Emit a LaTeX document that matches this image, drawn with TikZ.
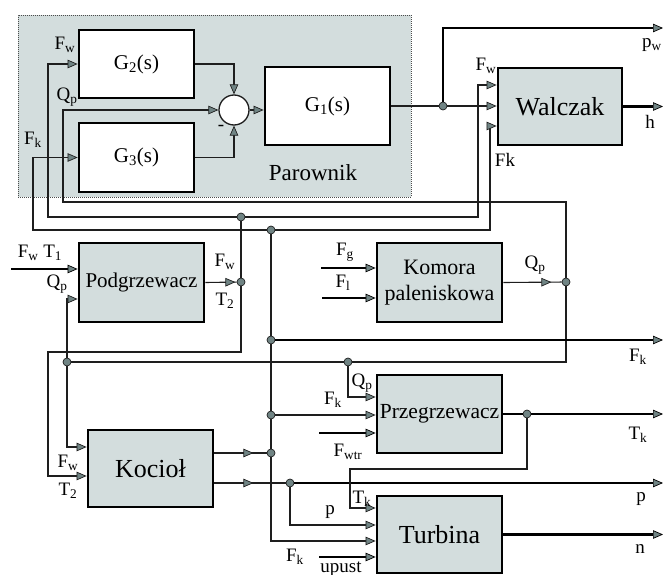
\documentclass[tikz,border=0pt]{standalone}
\usepackage{fontspec}
\setmainfont{Liberation Serif}
\usetikzlibrary{arrows.meta, decorations.markings}

\definecolor{boxgray}{HTML}{D3DDDD}
\definecolor{tipgray}{HTML}{708484}
\definecolor{linec}{HTML}{1E1E1E}
\newcommand{\sym}[2]{#1\textsubscript{#2}}

\begin{document}
\begin{tikzpicture}[x=1pt, y=-1pt, line cap=butt, line join=miter,
    wire/.style={line width=1.1pt, draw=linec},
    bus/.style={line width=2.8pt, draw=black},
    blk/.style={draw=black, line width=2.8pt, fill=boxgray, inner sep=0pt, align=center},
    gblk/.style={blk, fill=white, font=\fontsize{21}{22}\selectfont},
    pbg/.style={draw=black!70, dash pattern=on 0.8pt off 1.2pt, line width=0.7pt, fill=boxgray, inner sep=0pt},
    dot/.style={circle, draw=linec, fill=tipgray, line width=0.7pt, inner sep=0pt, minimum size=8pt},
    lbl/.style={font=\fontsize{19}{20}\selectfont, inner sep=0pt},
    midtip/.style={postaction={decorate}, decoration={markings, mark=at position #1 with {\arrow{>}}}},
    >={Triangle[length=10pt, width=8.5pt, fill=tipgray, line width=0.7pt]}]
  \useasboundingbox (0,0) rectangle (664,575);
  % Parownik
  \node[pbg, minimum width=393pt, minimum height=182pt] (parbg) at (214.5,106) {};
  \node[gblk, minimum width=115pt, minimum height=68pt] (g2) at (136.5,64) {G\textsubscript{2}(s)};
  \node[gblk, minimum width=115pt, minimum height=69pt] (g3) at (136.5,157.5) {G\textsubscript{3}(s)};
  \node[gblk, minimum width=125pt, minimum height=78pt] (g1) at (327.5,106) {G\textsubscript{1}(s)};
  \node[circle, draw=linec, fill=white, line width=1.3pt, minimum size=30pt, inner sep=0pt] (sum) at (234,110) {};
  \node[lbl, font=\fontsize{23}{24}\selectfont] (parname) at (313,173) {Parownik};
  \node[lbl] (minus) at (221,128) {-};

  % blocks
  \node[blk, minimum width=124pt, minimum height=77pt, font=\fontsize{26}{28}\selectfont] (walczak) at (560,106.5) {Walczak};
  \node[blk, minimum width=125pt, minimum height=79pt, font=\fontsize{21}{22}\selectfont] (podg) at (141.5,282.5) {Podgrzewacz};
  \node[blk, minimum width=125pt, minimum height=79pt, font=\fontsize{22}{26}\selectfont] (komora) at (439.5,282.5) {Komora\\paleniskowa};
  \node[blk, minimum width=125pt, minimum height=77pt, font=\fontsize{26}{28}\selectfont] (kociol) at (150.5,468.5) {Kocioł};
  \node[blk, minimum width=125pt, minimum height=78pt, font=\fontsize{21.5}{22}\selectfont] (przeg) at (439.5,414) {Przegrzewacz};
  \node[blk, minimum width=125pt, minimum height=77pt, font=\fontsize{26}{28}\selectfont] (turb) at (439.5,534.5) {Turbina};

  % junctions
  \node[dot] (jpw) at (443,106) {};
  \node[dot] (jfw) at (241,217) {};
  \node[dot] (jfk) at (271,230) {};
  \node[dot] (jt2) at (241,282) {};
  \node[dot] (jqk) at (566,282) {};
  \node[dot] (jfko) at (271,340) {};
  \node[dot] (jqp1) at (67,362) {};
  \node[dot] (jqp2) at (348,362) {};
  \node[dot] (jfkp) at (271,415) {};
  \node[dot] (jtk) at (527,414) {};
  \node[dot] (jkoc) at (271,453) {};
  \node[dot] (jp) at (290,483) {};

  \coordinate (rim) at (663,0);
  \coordinate (pwout) at (663,28);
  \coordinate (fwbend) at (48,217);
  \coordinate (fkbend) at (33,230);
  \coordinate (qpbend) at (63,202);
  \coordinate (fwup) at (478,217);
  \coordinate (fkup) at (490,230);
  \coordinate (t2loop) at (48,352);
  \coordinate (tkloop) at (350,469);
  \coordinate (fwt1in) at (11,269);
  \coordinate (fgin) at (321,268);
  \coordinate (flin) at (322,298);
  \coordinate (fwtrin) at (319,433);
  \coordinate (upustin) at (319,557);

  % inside the evaporator
  \draw[wire, ->] (g2.east) -| (sum.north);
  \draw[wire, ->] (g3.east) -| (sum.south);
  \draw[wire, ->] (sum.east) -- (sum.east -| g1.west);
  \draw[wire] (g1.east) -- (jpw);
  \draw[wire, ->] (jpw) -- (jpw -| walczak.west);
  \draw[bus, ->] (jpw) |- (pwout);
  \draw[bus, ->] (walczak.east) -- (walczak.east -| rim);

  % feedback lines back into the evaporator and the drum
  \draw[wire, ->] (jqk) |- (qpbend) |- (sum.west);
  \draw[wire, ->] (jfw) -- (fwbend) |- (g2.west);
  \draw[wire, ->] (jfk) -- (fkbend) |- (g3.west);
  \draw[wire, ->] (jfw) -- (fwup) |- ([yshift=21.5pt]walczak.west);
  \draw[wire, ->] (jfk) -- (fkup) |- ([yshift=-19.5pt]walczak.west);

  % preheater and furnace
  \draw[bus, ->] (fwt1in) -- (fwt1in -| podg.west);
  \draw[wire, midtip=30pt] (podg.east) -- (jt2);
  \draw[wire] (jfw) -- (jt2);
  \draw[wire, ->] (jt2) |- (t2loop) |- ([yshift=-7.5pt]kociol.west);
  \draw[bus, ->] (fgin) -- (fgin -| komora.west);
  \draw[bus, ->] (flin) -- (flin -| komora.west);
  \draw[wire, midtip=48pt] (komora.east) -- (jqk);
  \draw[wire] (jqk) |- (jqp2);
  \draw[wire] (jqp2) -- (jqp1);
  \draw[wire, ->] (jqp1) |- ([yshift=-16.5pt]podg.west);
  \draw[wire, ->] (jqp1) |- ([yshift=21.5pt]kociol.west);
  \draw[wire, ->] (jqp2) |- ([yshift=17pt]przeg.west);

  % steam side
  \draw[wire] (jfk) -- (jfko);
  \draw[wire] (jfko) -- (jfkp);
  \draw[wire] (jfkp) -- (jkoc);
  \draw[bus, ->] (jfko) -- (jfko -| rim);
  \draw[wire, ->] (jfkp) -- (jfkp -| przeg.west);
  \draw[wire, ->] (jkoc) |- ([yshift=-6.5pt]turb.west);
  \draw[wire, midtip=39pt] ([yshift=15.5pt]kociol.east) -- (jkoc);
  \draw[wire, midtip=39pt] ([yshift=-14.5pt]kociol.east) -- (jp);
  \draw[bus, ->] (jp) -- (jp -| rim);
  \draw[wire, ->] (jp) |- ([yshift=9.5pt]turb.west);
  \draw[bus, ->] (fwtrin) -- (fwtrin -| przeg.west);
  \draw[bus] (przeg.east) -- (jtk);
  \draw[bus, ->] (jtk) -- (jtk -| rim);
  \draw[wire, ->] (jtk) |- (tkloop) |- ([yshift=26.5pt]turb.west);
  \draw[bus, ->] (upustin) -- (upustin -| turb.west);
  \draw[bus, ->] (turb.east) -- (turb.east -| rim);

  % signal names
  \node[lbl] (l-fw-g2) at (65,45) {\sym{F}{w}};
  \node[lbl] (l-qp-sum) at (67,97) {\sym{Q}{p}};
  \node[lbl] (l-fk-g3) at (33,140) {\sym{F}{k}};
  \node[lbl] (l-pw) at (652,45) {\sym{p}{w}};
  \node[lbl] (l-fw-w) at (486,66) {\sym{F}{w}};
  \node[lbl] (l-h) at (650,122) {h};
  \node[lbl] (l-fk-w) at (505,160) {Fk};
  \node[lbl] (l-fwt1) at (40,253) {\sym{F}{w} \sym{T}{1}};
  \node[lbl] (l-qp-pod) at (57,284) {\sym{Q}{p}};
  \node[lbl] (l-fw-pod) at (225,262) {\sym{F}{w}};
  \node[lbl] (l-t2-pod) at (225,301) {\sym{T}{2}};
  \node[lbl] (l-fg) at (345,252) {\sym{F}{g}};
  \node[lbl] (l-fl) at (343,283) {\sym{F}{l}};
  \node[lbl] (l-qp-kom) at (535,265) {\sym{Q}{p}};
  \node[lbl] (l-fk-out) at (638,357) {\sym{F}{k}};
  \node[lbl] (l-qp-prz) at (362,383) {\sym{Q}{p}};
  \node[lbl] (l-fk-prz) at (333,400) {\sym{F}{k}};
  \node[lbl] (l-fwtr) at (348,452) {\sym{F}{wtr}};
  \node[lbl] (l-tk-out) at (638,435) {\sym{T}{k}};
  \node[lbl] (l-fw-koc) at (68,463) {\sym{F}{w}};
  \node[lbl] (l-t2-koc) at (68,491) {\sym{T}{2}};
  \node[lbl] (l-tk-tur) at (362,499) {\sym{T}{k}};
  \node[lbl] (l-p-tur) at (330,512) {p};
  \node[lbl] (l-p-out) at (641,499) {p};
  \node[lbl] (l-fk-tur) at (295,557) {\sym{F}{k}};
  \node[lbl] (l-upust) at (341,569) {upust};
  \node[lbl] (l-n) at (640,549) {n};
\end{tikzpicture}
\end{document}
